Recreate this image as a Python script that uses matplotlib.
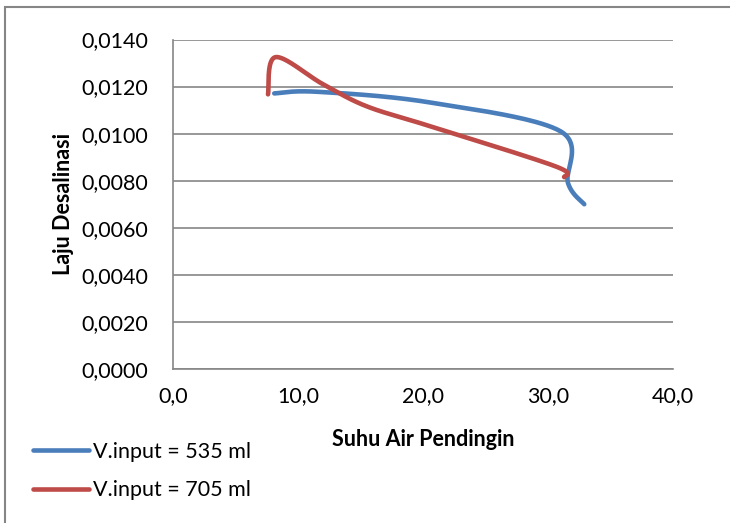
import numpy as np
import matplotlib
matplotlib.use("Agg")
import matplotlib.pyplot as plt
from matplotlib.patches import Rectangle

plt.rcParams['font.family'] = ['Lato', 'DejaVu Sans']

# Data
x_535 = [8.1, 11.5, 20.5, 31.0, 31.6, 32.9]
y_535 = [0.01171, 0.01178, 0.01133, 0.01010, 0.00790, 0.00700]
x_705 = [7.6, 8.2, 12.0, 15.5, 20.6, 30.6, 31.3]
y_705 = [0.01167, 0.01325, 0.01210, 0.01116, 0.01031, 0.00861, 0.00815]
labels = ["V.input = 535 ml", "V.input = 705 ml"]
xticks = [0, 10, 20, 30, 40]
yticks = [0.0, 0.002, 0.004, 0.006, 0.008, 0.010, 0.012, 0.014]
colors = ["#4A7EBB", "#BE4B48"]

FS = 15.5
W, H, DPI = 730, 523, 100
fig = plt.figure(figsize=(W / DPI, H / DPI), dpi=DPI)
ax = fig.add_axes([173 / W, 1 - 369 / H, 500 / W, 329.5 / H])
ax.set_xlim(0, 40)
ax.set_ylim(0, 0.014)


def smooth(xs, ys, sx, sy, n=40):
    # Excel-like smoothed line: cubic Bezier with Catmull-Rom control points
    P = np.column_stack([np.array(xs) * sx, np.array(ys) * sy])
    out = []
    for i in range(len(P) - 1):
        p0 = P[i - 1] if i > 0 else P[i]
        p1, p2 = P[i], P[i + 1]
        p3 = P[i + 2] if i + 2 < len(P) else P[i + 1]
        c1 = p1 + (p2 - p0) / 6
        c2 = p2 - (p3 - p1) / 6
        t = np.linspace(0, 1, n)[:, None]
        seg = ((1 - t) ** 3) * p1 + 3 * (1 - t) ** 2 * t * c1 + 3 * (1 - t) * t ** 2 * c2 + t ** 3 * p2
        out.append(seg if i == 0 else seg[1:])
    C = np.vstack(out)
    return C[:, 0] / sx, C[:, 1] / sy


sx, sy = 500 / 40, 329.5 / 0.014
for xs, ys, c, lab in [(x_535, y_535, colors[0], labels[0]), (x_705, y_705, colors[1], labels[1])]:
    cx, cy = smooth(xs, ys, sx, sy)
    ax.plot(cx, cy, color=c, lw=3.3, solid_capstyle='round', solid_joinstyle='round', label=lab)

ax.set_xticks(xticks)
ax.set_xticklabels([f"{v:.1f}".replace('.', ',') for v in xticks])
ax.set_yticks(yticks)
ax.set_yticklabels([f"{v:.4f}".replace('.', ',') for v in yticks])
ax.tick_params(length=0, labelsize=FS, pad=18, colors='black')
ax.tick_params(axis='x', pad=12)
ax.grid(axis='y', color='#868686', lw=1.2)
ax.set_axisbelow(True)
for s in ['top', 'right']:
    ax.spines[s].set_visible(False)
for s in ['left', 'bottom']:
    ax.spines[s].set_color('#868686')
    ax.spines[s].set_linewidth(1.2)

fig.text(423 / W, 1 - 440 / H, "Suhu Air Pendingin", ha='center', va='center', fontsize=FS, fontweight='bold')
fig.text(63 / W, 1 - 204 / H, "Laju Desalinasi", ha='center', va='center', fontsize=FS, fontweight='bold', rotation=90)

leg = fig.legend(loc='upper left', bbox_to_anchor=(33 / W, 1 - 442 / H), frameon=False, fontsize=FS,
                 handlelength=2.6, handletextpad=0.2, labelspacing=0.85, borderaxespad=0, borderpad=0)

fig.patches.append(Rectangle((4.5 / W, -0.1), 1.2, 1 - 7 / H + 0.1, transform=fig.transFigure,
                             fill=False, edgecolor='#868686', lw=1.5))

fig.savefig("out.png", dpi=DPI)
